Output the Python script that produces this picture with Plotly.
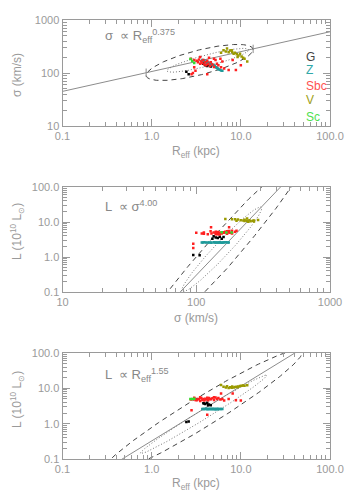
import numpy as np
import plotly.graph_objects as go

# ---------------- data ----------------
# galaxy groups: effective radius (kpc), velocity dispersion (km/s), luminosity (1e10 Lsun)
G_R = [2.45, 2.6, 3.8, 4.0, 4.2, 4.4, 3.9, 4.6, 4.3]
G_sig = [106, 95, 150, 140, 135, 145, 160, 132, 155]
G_L = [1.12, 1.15, 3.8, 3.6, 3.9, 3.5, 3.7, 3.3, 3.3]

Z_R = [3.7, 3.8, 3.9, 4.0, 4.1, 4.2, 4.3, 4.4, 4.5, 4.6, 4.7, 4.8, 4.9, 5.0, 5.1, 5.2, 5.3, 5.4, 5.5, 5.6, 5.8, 6.0, 6.2]
Z_sig = [175, 168, 172, 160, 163, 155, 158, 150, 152, 145, 148, 140, 142, 135, 137, 130, 128, 125, 122, 118, 115, 112, 110]
Z_L = [2.6, 2.62, 2.58, 2.6, 2.63, 2.57, 2.6, 2.62, 2.59, 2.6, 2.61, 2.58, 2.6, 2.62, 2.6, 2.57, 2.6, 2.61, 2.59, 2.6, 2.62, 2.58, 2.6]

Sbc_R = [2.8, 2.75, 3.0, 3.2, 3.3, 3.4, 3.5, 3.6, 3.7, 3.8, 3.9, 4.0, 4.1, 4.2, 4.3, 4.5, 4.6, 4.8, 5.0, 5.2,
         5.4, 5.6, 5.9, 6.0, 6.5, 7.3, 8.1, 8.8, 4.2, 3.1, 2.9, 3.5, 4.4, 5.0, 3.0, 6.2, 10.0]
Sbc_sig = [95, 185, 175, 170, 160, 180, 150, 165, 155, 175, 145, 160, 140, 170, 150, 135, 160, 145, 130, 175,
           150, 140, 185, 129, 122, 114, 176, 114, 95, 110, 100, 200, 195, 185, 128, 165, 140]
Sbc_L = [2.4, 4.8, 5.2, 4.6, 5.0, 4.9, 4.4, 5.3, 4.7, 5.0, 4.5, 5.1, 4.8, 5.4, 4.6, 5.0, 4.9, 5.2, 4.7, 5.5,
         5.0, 5.3, 4.8, 7.1, 4.5, 5.0, 7.1, 4.6, 1.8, 4.7, 4.9, 5.6, 5.3, 5.6, 5.4, 5.0, 4.5]

V_R = [6.0, 6.4, 6.8, 7.0, 7.3, 7.6, 8.0, 8.3, 8.6, 9.0, 9.4, 9.8, 10.2, 10.6, 11.0, 11.8, 7.9, 9.2]
V_sig = [240, 270, 255, 290, 245, 265, 250, 230, 240, 225, 215, 230, 205, 195, 185, 165, 270, 200]
V_L = [12.5, 11.0, 10.5, 11.5, 10.2, 10.8, 11.2, 10.6, 10.9, 11.0, 11.3, 11.6, 11.8, 12.0, 11.9, 12.2, 10.4, 10.8]

Sc_R = [2.72, 2.85, 3.0]
Sc_sig = [184, 168, 155]
Sc_L = [5.0, 5.0, 5.1]

groups = ["G", "Z", "Sbc", "V", "Sc"]
colors = ["#000000", "#1f9a9a", "#ff2020", "#9a9a00", "#30e030"]
label_colors = ["#444444", "#30a8a8", "#ff5050", "#a0a020", "#50e050"]

# fitted relations: value at reference point and slope (log-log)
fit1 = dict(x0=0.1, y0=45.0, slope=0.375)      # sigma vs Reff
fit2 = dict(x0=75.9, y0=0.1, slope=4.0)        # L vs sigma
fit3 = dict(x0=0.468, y0=0.1, slope=1.55)      # L vs Reff

# confidence ellipses in log space: centre, conjugate half-axes u and v
ell1_dash = dict(c=(0.538, 2.199), u=(0.60, 0.242), v=(0.0, 0.239))
ell1_dot = dict(c=(0.63, 2.24), u=(0.459, 0.196), v=(0.0, 0.11))
ell2_dash = dict(c=(2.151, 0.0), u=(0.668, 3.0), v=(0.153, 0.0))
ell2_dot = dict(c=(2.19, 0.215), u=(0.29, 1.215), v=(0.075, 0.0))
ell3_dash = dict(c=(0.55, 0.3), u=(1.10, 1.8), v=(0.311, 0.0))
ell3_dot = dict(c=(0.58, 0.26), u=(0.70, 1.11), v=(0.10, 0.0))

tick_R = [0.1, 1, 10, 100]
tick_R_text = ["0.1", "1.0", "10.0", "100.0"]
tick_sig1 = [10, 100, 1000]
tick_sig1_text = ["10", "100", "1000"]
tick_L = [0.1, 1, 10, 100]
tick_L_text = ["0.1", "1.0", "10.0", "100.0"]

# ---------------- figure ----------------
GREY = "#9a9a9a"
FONT = "Liberation Sans, Arial, sans-serif"
W, H = 350, 500
fig = go.Figure()

tt = np.linspace(0, 2 * np.pi, 300)


def ellipse(e):
    x = e["c"][0] + e["u"][0] * np.cos(tt) + e["v"][0] * np.sin(tt)
    y = e["c"][1] + e["u"][1] * np.cos(tt) + e["v"][1] * np.sin(tt)
    return 10 ** x, 10 ** y


def fitline(f, xr):
    xs = np.array(xr, dtype=float)
    return xs, f["y0"] * (xs / f["x0"]) ** f["slope"]


def add_panel(xa, ya, fit, xr, edash, edot, pts):
    x, y = fitline(fit, xr)
    fig.add_trace(go.Scatter(x=x, y=y, mode="lines", line=dict(color="#8c8c8c", width=1),
                             xaxis=xa, yaxis=ya, showlegend=False, hoverinfo="skip"))
    ex, ey = ellipse(edash)
    fig.add_trace(go.Scatter(x=ex, y=ey, mode="lines", line=dict(color="#444444", width=1, dash="5px,4px"),
                             xaxis=xa, yaxis=ya, showlegend=False, hoverinfo="skip"))
    ex, ey = ellipse(edot)
    fig.add_trace(go.Scatter(x=ex, y=ey, mode="lines", line=dict(color="#777777", width=1, dash="1px,2px"),
                             xaxis=xa, yaxis=ya, showlegend=False, hoverinfo="skip"))
    for (px, py), col in zip(pts, colors):
        fig.add_trace(go.Scatter(x=px, y=py, mode="markers",
                                 marker=dict(symbol="square", size=2.5, color=col, line=dict(width=0)),
                                 xaxis=xa, yaxis=ya, showlegend=False, cliponaxis=True))


add_panel("x", "y", fit1, [0.1, 100], ell1_dash, ell1_dot,
          [(G_R, G_sig), (Z_R, Z_sig), (Sbc_R, Sbc_sig), (V_R, V_sig), (Sc_R, Sc_sig)])
add_panel("x2", "y2", fit2, [10, 1000], ell2_dash, ell2_dot,
          [(G_sig, G_L), (Z_sig, Z_L), (Sbc_sig, Sbc_L), (V_sig, V_L), (Sc_sig, Sc_L)])
add_panel("x3", "y3", fit3, [0.1, 100], ell3_dash, ell3_dot,
          [(G_R, G_L), (Z_R, Z_L), (Sbc_R, Sbc_L), (V_R, V_L), (Sc_R, Sc_L)])

# crossbars at the ends of the major axis in panel 1
tipR = [10 ** (ell1_dash["c"][0] - ell1_dash["u"][0]), 10 ** (ell1_dash["c"][0] + ell1_dash["u"][0])]
tipS = list(fitline(fit1, tipR)[1])
fig.add_trace(go.Scatter(x=tipR, y=tipS, mode="markers",
                         marker=dict(symbol="line-ns", size=6, line=dict(width=1, color="#8c8c8c")),
                         xaxis="x", yaxis="y", showlegend=False))

xdom = [62.5 / W, 330 / W]


def ydom(top, bot):
    return [1 - bot / H, 1 - top / H]


def axis(dom, rng, tv, tt_, anchor):
    return dict(domain=dom, type="log", range=rng, tickmode="array", tickvals=tv, ticktext=tt_,
                ticks="inside", ticklen=7, tickcolor=GREY, tickwidth=1,
                minor=dict(ticks="inside", ticklen=4, tickcolor=GREY, dtick="D1", showgrid=False),
                showline=True, linecolor=GREY, linewidth=1, mirror="allticks",
                showgrid=False, zeroline=False, anchor=anchor, automargin=False,
                tickfont=dict(family=FONT, size=11, color=GREY))


fig.update_layout(
    width=W, height=H, margin=dict(l=0, r=0, t=0, b=0, autoexpand=False),
    paper_bgcolor="white", plot_bgcolor="white", hovermode=False,
    xaxis=axis(xdom, [-1, 2], tick_R, tick_R_text, "y"),
    yaxis=axis(ydom(20, 126), [1, 3], tick_sig1, tick_sig1_text, "x"),
    xaxis2=axis(xdom, [1, 3], tick_sig1, tick_sig1_text, "y2"),
    yaxis2=axis(ydom(187, 292), [-1, 2], tick_L, tick_L_text, "x2"),
    xaxis3=axis(xdom, [-1, 2], tick_R, tick_R_text, "y3"),
    yaxis3=axis(ydom(353, 459), [-1, 2], tick_L, tick_L_text, "x3"),
)

title_font = dict(family=FONT, size=12, color=GREY)
ttl_R = "R<sub>eff</sub> (kpc)"
ttl_sig = "σ (km/s)"
ttl_L = "L (10<sup>10</sup> L<sub>⊙</sub>)"
# axis titles (text, x px, y px, rotation)
titles = [
    (ttl_R, 196, 152, 0), (ttl_sig, 17, 75, -90),
    (ttl_sig, 196, 318, 0), (ttl_L, 17, 232, -90),
    (ttl_R, 196, 484, 0), (ttl_L, 17, 400, -90),
]
for txt, px, py, rot in titles:
    fig.add_annotation(xref="paper", yref="paper", x=px / W, y=1 - py / H, text=txt, textangle=rot,
                       xanchor="center", yanchor="middle", showarrow=False, font=title_font)

ann_font = dict(family=FONT, size=13, color="#888888")
annotations = [
    ("σ  ∝ R<sub>eff</sub><sup>0.375</sup>", 36),
    ("L  ∝ σ<sup>4.00</sup>", 206),
    ("L  ∝ R<sub>eff</sub><sup>1.55</sup>", 375),
]
for txt, py in annotations:
    fig.add_annotation(xref="paper", yref="paper", x=103 / W, y=1 - py / H, text=txt,
                       xanchor="left", yanchor="middle", showarrow=False, font=ann_font)

legend_y = [57, 70, 86, 100, 117]
for g, c, yy in zip(groups, label_colors, legend_y):
    fig.add_annotation(xref="paper", yref="paper", x=304 / W, y=1 - yy / H, text=g,
                       xanchor="left", yanchor="middle", showarrow=False,
                       font=dict(family=FONT, size=12, color=c))

fig.write_html("out.html", config={"displayModeBar": False, "staticPlot": True},
               post_script="document.body.style.margin='0';document.body.style.overflow='hidden';")
